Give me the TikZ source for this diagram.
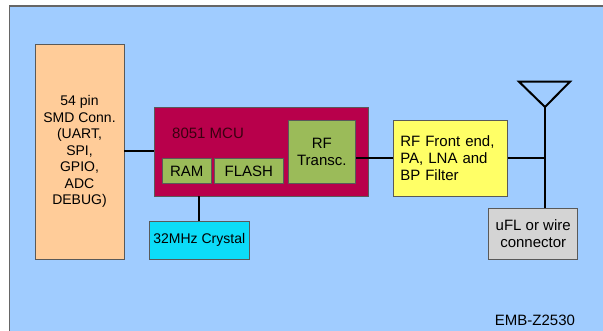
\documentclass[tikz,border=0pt]{standalone}
\usepackage{fontspec}
\setmainfont{Liberation Sans}
\begin{document}
\begin{tikzpicture}[x=1pt,y=-1pt,
  blk/.style={draw=black!65, line width=0.7pt, inner sep=0pt, align=center},
  wire/.style={draw=black, line width=2pt},
  fA/.style={font=\fontsize{14}{16.5}\selectfont},
  fB/.style={font=\fontsize{15}{17}\selectfont}]
\definecolor{bgblue}{HTML}{A0CCFF}
\definecolor{peach}{HTML}{FFCC99}
\definecolor{crimson}{HTML}{B8004B}
\definecolor{olive}{HTML}{9BBB59}
\definecolor{cyanx}{HTML}{0CDCF8}
\definecolor{yel}{HTML}{FFFF66}
\definecolor{grayb}{HTML}{D4D4D4}
\definecolor{darktxt}{HTML}{3A0010}
\useasboundingbox (0,0) rectangle (603,331);
\clip (0,0) rectangle (603,331);
\fill[white] (0,0) rectangle (603,331);
\filldraw[fill=bgblue, draw=black!60, line width=1.2pt] (9.5,6) rectangle (620,345);

% blocks
\node[blk, fA, fill=peach, minimum width=89pt, minimum height=215pt] (conn) at (79.5,151.5)
  {54 pin\\SMD Conn.\\(UART,\\SPI,\\GPIO,\\ADC\\DEBUG)};
\node[blk, fill=crimson, minimum width=214pt, minimum height=88.3pt] (mcu) at (261,151.85) {};
\node[fB, text=darktxt, anchor=west, inner sep=0pt] (mcut) at (172,133) {8051 MCU};
\node[blk, fB, fill=olive, minimum width=49.7pt, minimum height=25pt] (ram) at (186.8,171.2) {RAM};
\node[blk, fB, fill=olive, minimum width=68.3pt, minimum height=25pt] (flash) at (248.85,171.2) {FLASH};
\node[blk, fB, fill=olive, minimum width=67.7pt, minimum height=63.7pt] (rf) at (321.85,151.85) {RF\\Transc.};
\node[blk, fA, fill=cyanx, minimum width=100.7pt, minimum height=38pt] (xtal) at (199.3,240) {32MHz Crystal};
\node[blk, fB, fill=yel, minimum width=114pt, minimum height=76pt, text width=100pt, align=left] (front) at (450.3,158)
  {RF Front end,\\PA, LNA and\\BP Filter};
\node[blk, fB, fill=grayb, minimum width=89pt, minimum height=50.7pt] (ufl) at (533.2,233.7) {uFL or wire\\connector};
\node[fB, inner sep=0pt] (emb) at (535,320) {EMB-Z2530};

% antenna
\coordinate (tip) at (545,107);
\coordinate (junc) at (545,158);
\draw[black, line width=2pt, line join=miter] (519,81.7) -- (570,81.7) -- (tip) -- cycle;

% wires
\draw[wire] (conn.east |- 0,151) -- (mcu.west |- 0,151);
\draw[wire] (mcu.south -| xtal.north) -- (xtal.north);
\draw[wire] (front.west -| rf.east) -- (front.west);
\draw[wire] (front.east) -- (junc);
\draw[wire] (tip) -- (tip |- ufl.north);
\end{tikzpicture}
\end{document}
